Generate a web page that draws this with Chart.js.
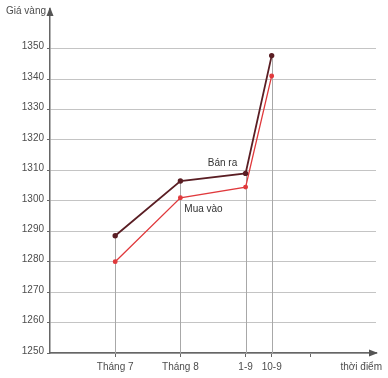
<!DOCTYPE html>
<html>
<head>
<meta charset="utf-8">
<script src="https://cdn.jsdelivr.net/npm/chart.js@4"></script>
<style>
  html, body { margin: 0; padding: 0; background: #fff; }
  #wrap { width: 388px; height: 378px; position: relative; }
</style>
</head>
<body>
<div id="wrap"><canvas id="myChart"></canvas></div>
<script>
// thoi diem (x position on a linear scale) and labels
var xPositions = [0, 1, 2, 2.4];
var xLabels = ['Tháng 7', 'Tháng 8', '1-9', '10-9'];
var xTickValues = [0, 1, 2, 2.4, 3];
var yTicks = [1250, 1260, 1270, 1280, 1290, 1300, 1310, 1320, 1330, 1340, 1350];

var banRa = [1288.5, 1306.5, 1309, 1347.7];
var muaVao = [1280, 1301, 1304.5, 1341];

var FONT = "'Liberation Sans', Arial, sans-serif";
Chart.defaults.font.family = FONT;
Chart.defaults.font.size = 10;
Chart.defaults.color = '#4d4d4d';

function toPoints(values) {
  return values.map(function (v, i) { return {x: xPositions[i], y: v}; });
}

// drop lines, arrows, axis titles and series labels
var extras = {
  id: 'extras',
  beforeDatasetsDraw: function (chart) {
    var c = chart.ctx, xs = chart.scales.x, ys = chart.scales.y;
    c.save();
    c.strokeStyle = '#a8a8a8';
    c.lineWidth = 1;
    xPositions.forEach(function (p, i) {
      var px = Math.round(xs.getPixelForValue(p)) + 0.5;
      c.beginPath();
      c.moveTo(px, ys.getPixelForValue(1250));
      c.lineTo(px, ys.getPixelForValue(Math.max(banRa[i], muaVao[i])));
      c.stroke();
    });
    c.restore();
  },
  afterDraw: function (chart) {
    var c = chart.ctx, xs = chart.scales.x, ys = chart.scales.y;
    var a = chart.chartArea;
    c.save();
    c.fillStyle = '#555';
    // y arrow
    c.beginPath();
    c.moveTo(a.left, a.top - 2);
    c.lineTo(a.left - 3.5, a.top + 7);
    c.lineTo(a.left + 3.5, a.top + 7);
    c.closePath();
    c.fill();
    // x arrow
    c.beginPath();
    c.moveTo(a.right + 2, a.bottom);
    c.lineTo(a.right - 7, a.bottom - 3.5);
    c.lineTo(a.right - 7, a.bottom + 3.5);
    c.closePath();
    c.fill();

    c.font = '10px ' + FONT;
    c.fillStyle = '#4d4d4d';
    c.textBaseline = 'middle';
    c.textAlign = 'right';
    c.fillText('Giá vàng', a.left - 4, 11);
    c.fillText('thời điểm', 382, 367);

    c.textAlign = 'left';
    c.fillStyle = '#333';
    c.fillText('Bán ra', xs.getPixelForValue(1.42), ys.getPixelForValue(1312.4));
    c.fillText('Mua vào', xs.getPixelForValue(1.06), ys.getPixelForValue(1297.3));
    c.restore();
  }
};

var ctx = document.getElementById('myChart').getContext('2d');
var myChart = new Chart(ctx, {
  type: 'line',
  data: {
    datasets: [{
      label: 'Bán ra',
      data: toPoints(banRa),
      borderColor: '#5a1e24',
      backgroundColor: '#5a1e24',
      borderWidth: 1.8,
      pointRadius: 1.8,
      pointHoverRadius: 1.8,
      tension: 0
    }, {
      label: 'Mua vào',
      data: toPoints(muaVao),
      borderColor: '#e0393c',
      backgroundColor: '#e0393c',
      borderWidth: 1.3,
      pointRadius: 1.8,
      pointHoverRadius: 1.8,
      tension: 0
    }]
  },
  options: {
    responsive: true,
    maintainAspectRatio: false,
    animation: false,
    layout: { padding: { top: 3, right: 12, left: 0, bottom: 0 } },
    plugins: {
      legend: { display: false },
      tooltip: { enabled: false }
    },
    scales: {
      x: {
        type: 'linear',
        min: -1,
        max: 4,
        afterBuildTicks: function (scale) {
          scale.ticks = xTickValues.map(function (v) { return {value: v}; });
        },
        afterFit: function (scale) { scale.height = 25; },
        ticks: {
          padding: 4,
          maxRotation: 0,
          autoSkip: false,
          callback: function (v) {
            var i = xPositions.indexOf(v);
            return i >= 0 ? xLabels[i] : '';
          }
        },
        grid: {
          drawOnChartArea: false,
          tickLength: 4,
          tickColor: '#666'
        },
        border: { color: '#666', width: 1.5 }
      },
      y: {
        min: 1250,
        max: 1363,
        afterBuildTicks: function (scale) {
          scale.ticks = yTicks.map(function (v) { return {value: v}; });
        },
        afterFit: function (scale) { scale.width = 50; },
        ticks: {
          padding: 3,
          labelOffset: -2,
          callback: function (v) { return String(v); }
        },
        grid: {
          color: '#c4c4c4',
          lineWidth: 1,
          borderDash: [1.5, 2],
          tickLength: 3,
          tickColor: '#666',
          tickBorderDash: []
        },
        border: { color: '#666', width: 1.5 }
      }
    }
  },
  plugins: [extras]
});
</script>
</body>
</html>
